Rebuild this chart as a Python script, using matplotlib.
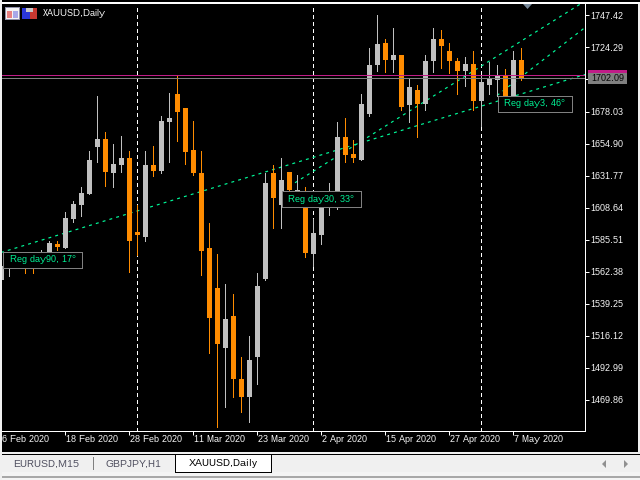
import matplotlib
matplotlib.use("Agg")
import matplotlib.pyplot as plt
from matplotlib.patches import Rectangle, Polygon

plt.rcParams['font.family'] = ['Liberation Sans', 'DejaVu Sans']
plt.rcParams['text.hinting'] = 'native'
plt.rcParams['text.hinting_factor'] = 1

# Daily candles
highs = [1566.72, 1575.39, 1576.11, 1575.39, 1574.67, 1578.28, 1584.79, 1584.07, 1605.03, 1612.98, 1623.82,
         1649.12, 1689.59, 1663.57, 1654.90, 1660.68, 1649.12, 1610.81, 1649.12, 1653.45, 1674.42, 1691.76,
         1703.33, 1680.20, 1671.52, 1649.84, 1597.80, 1575.39, 1553.71, 1546.48, 1500.94, 1516.12, 1560.94,
         1633.22, 1639.00, 1644.06, 1634.66, 1632.49, 1623.10, 1599.97, 1615.15, 1625.99, 1670.08, 1673.69,
         1657.07, 1690.32, 1723.57, 1747.42, 1730.79, 1738.74, 1718.51, 1702.60, 1697.54, 1718.51, 1738.74,
         1736.58, 1727.90, 1716.34, 1717.78, 1721.40, 1704.77, 1713.45, 1712.00, 1708.39, 1722.12, 1723.57]
opens = [1555.88, 1568.89, 1568.89, 1574.67, 1573.95, 1568.89, 1571.78, 1581.90, 1579.73, 1600.69, 1610.09,
         1618.04, 1652.73, 1658.51, 1633.22, 1639.72, 1644.06, 1591.29, 1587.68, 1639.72, 1635.38, 1670.80,
         1691.04, 1680.20, 1650.56, 1633.94, 1579.01, 1550.10, 1507.45, 1530.58, 1485.04, 1472.03, 1500.94,
         1557.32, 1633.94, 1610.81, 1634.66, 1619.48, 1617.31, 1575.39, 1589.12, 1613.70, 1613.70, 1659.24,
         1647.67, 1643.33, 1676.58, 1711.28, 1727.90, 1715.61, 1718.51, 1682.37, 1693.93, 1683.09, 1714.17,
         1730.79, 1722.12, 1714.89, 1707.66, 1712.72, 1685.26, 1697.54, 1700.44, 1704.77, 1688.87, 1715.61]
closes = [1566.72, 1573.95, 1575.39, 1568.89, 1566.72, 1574.67, 1583.34, 1580.45, 1601.41, 1611.53, 1619.48,
          1643.33, 1658.51, 1634.66, 1640.44, 1644.06, 1584.07, 1589.12, 1639.72, 1635.38, 1671.52, 1673.69,
          1677.31, 1648.40, 1633.94, 1577.56, 1529.13, 1510.34, 1528.41, 1485.04, 1472.03, 1498.77, 1552.26,
          1625.99, 1615.87, 1628.16, 1621.65, 1621.65, 1576.11, 1590.57, 1613.70, 1620.93, 1659.24, 1646.95,
          1644.78, 1683.81, 1712.00, 1726.46, 1715.61, 1718.51, 1681.64, 1695.38, 1683.09, 1714.89, 1730.79,
          1725.73, 1714.17, 1707.66, 1712.72, 1685.26, 1699.71, 1701.16, 1704.77, 1688.87, 1715.61, 1701.16]
lows = [1555.88, 1559.49, 1566.72, 1560.94, 1560.94, 1566.72, 1568.89, 1578.28, 1579.73, 1598.52, 1602.86,
        1618.04, 1641.89, 1624.54, 1623.82, 1634.66, 1562.38, 1574.67, 1584.07, 1631.05, 1633.94, 1641.17,
        1656.35, 1640.44, 1632.49, 1560.21, 1503.83, 1450.35, 1464.80, 1472.03, 1461.19, 1453.96, 1481.43,
        1555.88, 1594.18, 1594.18, 1620.21, 1618.76, 1573.22, 1566.00, 1581.90, 1603.58, 1607.92, 1641.17,
        1641.17, 1643.33, 1674.42, 1707.66, 1706.94, 1706.94, 1679.47, 1670.80, 1659.24, 1679.47, 1706.22,
        1709.83, 1705.50, 1691.04, 1696.82, 1679.47, 1667.19, 1691.04, 1689.59, 1688.15, 1688.15, 1700.44]

# Price axis
ytick_values = [1747.42, 1724.29, 1701.16, 1678.03, 1654.90, 1631.77, 1608.64, 1585.51, 1562.38, 1539.25,
                1516.12, 1492.99, 1469.86]
ytick_labels = ["1747.42", "1724.29", "", "1678.03", "1654.90", "1631.77", "1608.64", "1585.51", "1562.38",
                "1539.25", "1516.12", "1492.99", "1469.86"]
bid = 1702.09
ask = 1704.26

# Time axis
xtick_bars = [0, 8, 16, 24, 32, 40, 48, 56, 64]
xtick_labels = ["6 Feb 2020", "18 Feb 2020", "28 Feb 2020", "11 Mar 2020", "23 Mar 2020", "2 Apr 2020",
                "15 Apr 2020", "27 Apr 2020", "7 May 2020"]
separator_bars = [17, 39, 60]

# Regression trend lines: bar index and price at both ends
reg90_bars, reg90_prices = [0, 73], [1576.11, 1704.77]
reg30_bars, reg30_prices = [36, 72.5], [1623.82, 1756.0]
reg3_bars, reg3_prices = [62, 73], [1689.59, 1738.74]

reg_labels = ["Reg day90, 17°", "Reg day30, 33°", "Reg day3, 46°"]

tab_names = ["EURUSD,M15", "GBPJPY,H1", "XAUUSD,Daily"]

ORANGE = "#FF8C00"
SILVER = "#C0C0C0"
MINT = "#00FA9A"
MAGENTA = "#C01C88"
PANEL = "#F0F0F0"
W, H = 640.0, 480.0
PX = 0.72   # one pixel in points


def box(x0, y0, x1, y1, color, z=1, edge=None):
    # rectangle given in image pixels, y going down
    r = Rectangle((x0 / W, 1 - y1 / H), (x1 - x0) / W, (y1 - y0) / H, transform=fig.transFigure,
                  facecolor=color, edgecolor=edge if edge else color, linewidth=PX if edge else 0,
                  antialiased=False, zorder=z)
    fig.add_artist(r)


def label(x, y, s, color="white", size=6.6, ha="left", z=6, **kw):
    fig.text(x / W, 1 - y / H, s, color=color, fontsize=size, ha=ha, va="center", zorder=z, **kw)


fig = plt.figure(figsize=(6.4, 4.8), dpi=100, facecolor="white")

# window background
box(2, 4, 638, 452, "black", z=-5)
box(0, 0, 640, 2, "black", z=-5)
box(2, 2, 640, 4, "white", z=-5)

ax = fig.add_axes([2 / W, 1 - 431 / H, 583 / W, 427 / H], facecolor="black")
ax.set_zorder(1)
ax.set_xlim(0.125, 73.0)
ax.set_ylim(1447.10, 1755.73)

for s in ["top", "left"]:
    ax.spines[s].set_visible(False)
for s in ["right", "bottom"]:
    ax.spines[s].set_color("white")
    ax.spines[s].set_linewidth(PX)

# period separators and trend lines sit under the candles
for b in separator_bars:
    ax.axvline(b, color="white", lw=PX, ls=(0, (3, 3)), antialiased=False, zorder=1)
for xs, ys in [(reg90_bars, reg90_prices), (reg30_bars, reg30_prices), (reg3_bars, reg3_prices)]:
    ax.plot(xs, ys, color=MINT, lw=0.85, ls=(0, (2.5, 3.5)), zorder=1.5)

bars = list(range(len(opens)))
colors = [SILVER if c > o else ORANGE for o, c in zip(opens, closes)]
ax.vlines(bars, lows, highs, colors=colors, lw=PX, antialiased=False, zorder=2)
ax.bar(bars, [abs(c - o) for o, c in zip(opens, closes)], bottom=[min(o, c) for o, c in zip(opens, closes)],
       width=0.625, color=colors, linewidth=0, antialiased=False, zorder=3)

# bid / ask lines
ax.axhline(ask, color=MAGENTA, lw=PX, antialiased=False, zorder=4)
ax.axhline(bid, color="#808080", lw=PX, antialiased=False, zorder=4)

ax.yaxis.tick_right()
ax.set_yticks(ytick_values, ytick_labels)
ax.set_xticks(xtick_bars[1:], [""] * (len(xtick_bars) - 1))
ax.tick_params(axis="both", color="white", length=4 * PX, width=PX, labelcolor="white", labelsize=6.6, pad=1)
for b, s in zip(xtick_bars, xtick_labels):
    ax.annotate(s, xy=(b, 0), xycoords=("data", "axes fraction"), xytext=(1, -9), textcoords="offset pixels",
                color="white", fontsize=6.6, ha="left", va="center", annotation_clip=False)

# current price tags on the right
box(588, 70, 627, 74, MAGENTA, z=5)
box(588, 73, 627, 84, "#808080", z=5)
label(591, 78.5, "1702.09", color="black")

# regression labels
for (x0, y0, x1, y1), s in zip([(3, 252, 82, 268), (282, 191, 361, 207), (498, 96, 572, 112)], reg_labels):
    box(x0, y0, x1, y1, "black", z=5, edge="#808080")
    label((x0 + x1) / 2, (y0 + y1) / 2, s, color=MINT, ha="center")

# order marker on top of the chart
fig.add_artist(Polygon([(523 / W, 1 - 4 / H), (532 / W, 1 - 4 / H), (527.5 / W, 1 - 9 / H)],
                       transform=fig.transFigure, facecolor="#778899", edgecolor="none", zorder=6))

# symbol icons and title
box(5, 7, 20, 20, "#9090A8", z=6)
box(6, 8, 19, 19, "#F4F4F4", z=6)
box(7, 11, 12, 18, "#E88080", z=6)
box(13, 11, 18, 18, "#A8A8E8", z=6)
box(22, 8, 30, 19, "#2A36D8", z=6)
box(30, 8, 37, 19, "#C83830", z=6)
box(26, 8, 33, 12, "#C8C8C8", z=6)
label(43, 13.5, "XAUUSD,Daily")

# tab bar
box(0, 452, 640, 454, PANEL, z=-4)
box(0, 454, 640, 455, "black", z=-4)
box(0, 455, 640, 472, PANEL, z=-4)
box(0, 472, 640, 476, "#F4F4F4", z=-4)
box(0, 476, 640, 478, "#A8A8A8", z=-4)
box(0, 478, 640, 480, "#F4F4F4", z=-4)
box(175, 454, 271, 472, "white", z=-3, edge="black")
box(93, 457, 94, 470, "#808080", z=-3)
label(46, 464, tab_names[0], color="#505060", size=7.4, ha="center")
label(133, 464, tab_names[1], color="#505060", size=7.4, ha="center")
label(223, 463, tab_names[2], color="black", size=7.4, ha="center")
fig.add_artist(Polygon([(602 / W, 1 - 464 / H), (606 / W, 1 - 460 / H), (606 / W, 1 - 468 / H)],
                       transform=fig.transFigure, facecolor="#909090", edgecolor="none", zorder=6))
fig.add_artist(Polygon([(628 / W, 1 - 464 / H), (624 / W, 1 - 460 / H), (624 / W, 1 - 468 / H)],
                       transform=fig.transFigure, facecolor="#909090", edgecolor="none", zorder=6))

# light window edges
box(0, 0, 2, 480, PANEL, z=8)
box(638, 4, 640, 452, PANEL, z=8)

fig.savefig("out.png", dpi=100, facecolor="white")
